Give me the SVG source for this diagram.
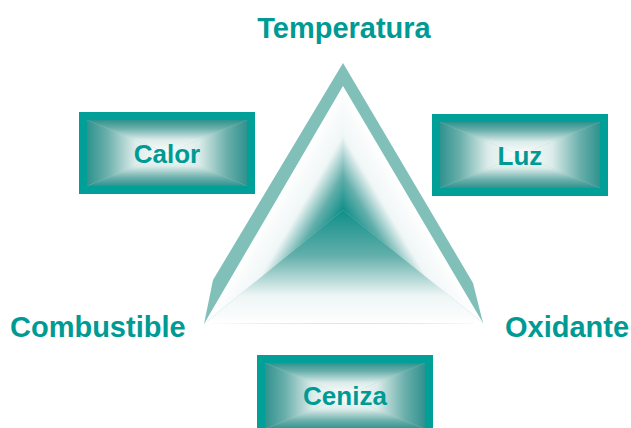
<svg xmlns="http://www.w3.org/2000/svg" xmlns:xlink="http://www.w3.org/1999/xlink" width="631" height="428" viewBox="0 0 631 428">
  <style>
    .lbl { font-family: "Liberation Sans", Arial, sans-serif; font-weight: bold; fill: #009a94; }
    .big { font-size: 29px; }
    .box { font-size: 26px; text-anchor: middle; }
    .border { fill: #00a099; }
    .band { fill: #80c0b9; }
  </style>
  <defs>
    <linearGradient id="gL" x1="0" y1="0" x2="1" y2="0">
      <stop offset="0" stop-color="#2f928e"/>
      <stop offset="0.25" stop-color="#6aafab"/>
      <stop offset="0.6" stop-color="#dcecea"/>
      <stop offset="1" stop-color="#ffffff"/>
    </linearGradient>
    <linearGradient id="gR" xlink:href="#gL" x1="1" y1="0" x2="0" y2="0"/>
    <linearGradient id="gT" xlink:href="#gL" x1="0" y1="0" x2="0" y2="1"/>
    <linearGradient id="gB" xlink:href="#gL" x1="0" y1="1" x2="0" y2="0"/>
    <linearGradient id="tS">
      <stop offset="0" stop-color="#ffffff"/>
      <stop offset="0.25" stop-color="#eef5f5"/>
      <stop offset="0.6" stop-color="#62afab"/>
      <stop offset="1" stop-color="#108f89"/>
    </linearGradient>
    <linearGradient id="tSide">
      <stop offset="0" stop-color="#ffffff"/>
      <stop offset="0.4" stop-color="#f0f6f6"/>
      <stop offset="0.72" stop-color="#62afab"/>
      <stop offset="1" stop-color="#108f89"/>
    </linearGradient>
    <linearGradient id="tB" xlink:href="#tS" gradientUnits="userSpaceOnUse" x1="343" y1="324" x2="343" y2="210"/>
    <linearGradient id="tL" xlink:href="#tSide" gradientUnits="userSpaceOnUse" x1="289" y1="178.4" x2="343" y2="210"/>
    <linearGradient id="tR" xlink:href="#tSide" gradientUnits="userSpaceOnUse" x1="397.3" y1="177.9" x2="343" y2="210"/>
    <g id="boxbg">
      <rect class="border" x="0" y="0" width="176" height="82"/>
      <rect x="8" y="8" width="160" height="66" fill="#9fcdca"/>
      <polygon points="8,8 88,41 8,74" fill="url(#gL)"/>
      <polygon points="168,8 88,41 168,74" fill="url(#gR)"/>
      <polygon points="8,8 168,8 88,41" fill="url(#gT)"/>
      <polygon points="8,74 168,74 88,41" fill="url(#gB)"/>
    </g>
  </defs>

  <g id="triangulo">
    <polygon class="band" points="343,63 473,283 483,323 204,324 213,280"/>
    <polygon points="343,86 483,323 204,324" fill="#9fcdca"/>
    <polygon points="204,324 483,323 343,210" fill="url(#tB)"/>
    <polygon points="343,86 204,324 343,210" fill="url(#tL)"/>
    <polygon points="343,86 483,323 343,210" fill="url(#tR)"/>
  </g>

  <g id="temperatura">
    <text class="lbl big" x="344" y="38" text-anchor="middle">Temperatura</text>
  </g>
  <g id="combustible">
    <text class="lbl big" x="10" y="337">Combustible</text>
  </g>
  <g id="oxidante">
    <text class="lbl big" x="505" y="337">Oxidante</text>
  </g>

  <g id="calor">
    <use xlink:href="#boxbg" x="79" y="112"/>
    <text class="lbl box" x="167" y="163">Calor</text>
  </g>
  <g id="luz">
    <use xlink:href="#boxbg" x="432" y="114"/>
    <text class="lbl box" x="520" y="165">Luz</text>
  </g>
  <g id="ceniza">
    <use xlink:href="#boxbg" x="257" y="355"/>
    <text class="lbl box" x="345" y="405">Ceniza</text>
  </g>
</svg>
